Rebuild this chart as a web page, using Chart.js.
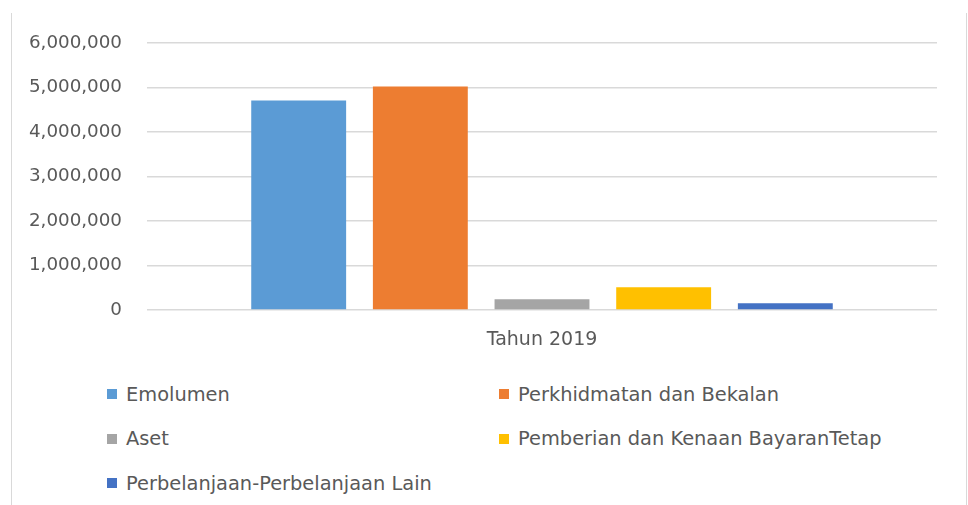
<!DOCTYPE html>
<html>
<head>
<meta charset="utf-8">
<script src="https://cdn.jsdelivr.net/npm/chart.js@4/dist/chart.umd.min.js"></script>
<style>
  body { margin: 0; background: #fff; }
  #wrap { position: relative; width: 968px; height: 505px; }
  #frame {
    position: absolute; left: 11px; top: 13px; width: 954px; height: 492px;
    border-left: 1px solid #d9d9d9; border-right: 1px solid #d9d9d9;
  }
  #chart { position: absolute; left: 0; top: 0; }
  #legend {
    position: absolute; left: 107px; top: 372px; width: 820px;
    display: grid; grid-template-columns: 392px 420px; grid-auto-rows: 44.5px;
    font-family: "DejaVu Sans", sans-serif; font-size: 19.4px; color: #595959;
  }
  .item { display: flex; align-items: center; white-space: nowrap; }
  .box { width: 10px; height: 10px; margin-right: 9px; flex: none; }
</style>
</head>
<body>
<div id="wrap">
  <div id="frame"></div>
  <canvas id="chart" width="968" height="360"></canvas>
  <div id="legend"></div>
</div>
<script>
// data
const categories = ['Tahun 2019'];
const seriesNames = [
  'Emolumen',
  'Perkhidmatan dan Bekalan',
  'Aset',
  'Pemberian dan Kenaan BayaranTetap',
  'Perbelanjaan-Perbelanjaan Lain',
];
const emolumen = [4710000];
const perkhidmatan = [5020000];
const aset = [240000];
const pemberian = [510000];
const perbelanjaanLain = [150000];
const seriesColors = ['#5B9BD5', '#ED7D31', '#A5A5A5', '#FFC000', '#4472C4'];

const seriesValues = [emolumen, perkhidmatan, aset, pemberian, perbelanjaanLain];

const fontFamily = '"DejaVu Sans", sans-serif';
const textColor = '#595959';

const ctx = document.getElementById('chart').getContext('2d');
const chart = new Chart(ctx, {
  type: 'bar',
  data: {
    labels: categories,
    datasets: seriesNames.map((name, i) => ({
      label: name,
      data: seriesValues[i],
      backgroundColor: seriesColors[i],
      borderWidth: 0,
      categoryPercentage: 0.77,
      barPercentage: 0.78,
    })),
  },
  options: {
    responsive: false,
    animation: false,
    layout: { padding: { left: 0, right: 31, top: 43, bottom: 0 } },
    plugins: {
      legend: { display: false },
      tooltip: { enabled: false },
    },
    scales: {
      x: {
        grid: { display: false, drawTicks: false },
        border: { display: false },
        ticks: { color: textColor, font: { family: fontFamily, size: 19 }, padding: 19 },
        afterFit: (s) => { s.height = 50; },
      },
      y: {
        min: 0,
        max: 6000000,
        grid: { color: '#d9d9d9', lineWidth: 1.5, drawTicks: false },
        border: { display: false },
        ticks: {
          stepSize: 1000000,
          color: textColor,
          font: { family: fontFamily, size: 18.3 },
          padding: 25,
          callback: (v) => v.toLocaleString('en-US'),
        },
        afterFit: (s) => { s.width = 147; },
      },
    },
  },
});

// legend in two columns
const legend = document.getElementById('legend');
chart.data.datasets.forEach((ds) => {
  const item = document.createElement('div');
  item.className = 'item';
  const box = document.createElement('span');
  box.className = 'box';
  box.style.background = ds.backgroundColor;
  const label = document.createElement('span');
  label.textContent = ds.label;
  item.appendChild(box);
  item.appendChild(label);
  legend.appendChild(item);
});
</script>
</body>
</html>
